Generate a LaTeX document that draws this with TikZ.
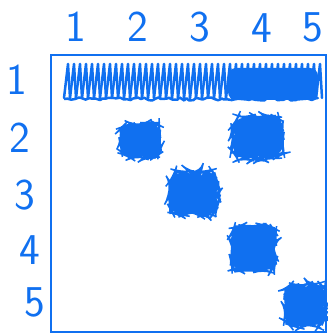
\documentclass[tikz,border=0pt]{standalone}
\usetikzlibrary{decorations.pathmorphing}
\definecolor{pen}{RGB}{16,112,240}
\begin{document}
\begin{tikzpicture}[x=1pt,y=-1pt,
  lab/.style={text=pen,font=\sffamily\fontsize{44}{44}\selectfont,inner sep=0pt},
  blob/.style={fill=pen,draw=pen,line width=1.5pt,rounded corners=10pt,
    decorate,decoration={random steps,segment length=4pt,amplitude=2pt}},
  scrib/.style={draw=pen,line width=2.5pt,line join=round,decorate,
    decoration={random steps,segment length=3.5pt,amplitude=1.5pt}}]
\useasboundingbox (0,0) rectangle (328,336);
\pgfmathsetseed{7}
% frame
\draw[pen,line width=2pt] (51,55) rectangle (326,332);
% column labels
\node[lab] (c1) at (76,27) {1};
\node[lab] (c2) at (138,27) {2};
\node[lab] (c3) at (200,27) {3};
\node[lab] (c4) at (262,28) {4};
\node[lab] (c5) at (313,27) {5};
% row labels
\node[lab] (r1) at (17,80) {1};
\node[lab] (r2) at (20,138) {2};
\node[lab] (r3) at (25,195) {3};
\node[lab] (r4) at (30,250) {4};
\node[lab] (r5) at (35,302) {5};
% row 1 scribble
\foreach \i in {0,...,42} {
  \pgfmathsetmacro{\xa}{64+\i*6}
  \pgfmathsetmacro{\xb}{\xa+4}
  \pgfmathsetmacro{\xc}{\xa+6}
  \draw[pen,line width=2.5pt,line cap=round,line join=round]
    (\xa,98) -- (\xb,64) -- (\xc,98);
}
\fill[pen,rounded corners=8pt] (228,68) rectangle (318,100);
\draw[scrib] (64,99) -- (318,99);
% blobs
\draw[blob] (121,124) rectangle (160,157);
\draw[blob] (232,117) rectangle (282,158);
\draw[blob] (170,172) rectangle (217,214);
\draw[blob] (231,226) rectangle (275,270);
\draw[blob] (285,285) rectangle (325,326);
\end{tikzpicture}
\end{document}
